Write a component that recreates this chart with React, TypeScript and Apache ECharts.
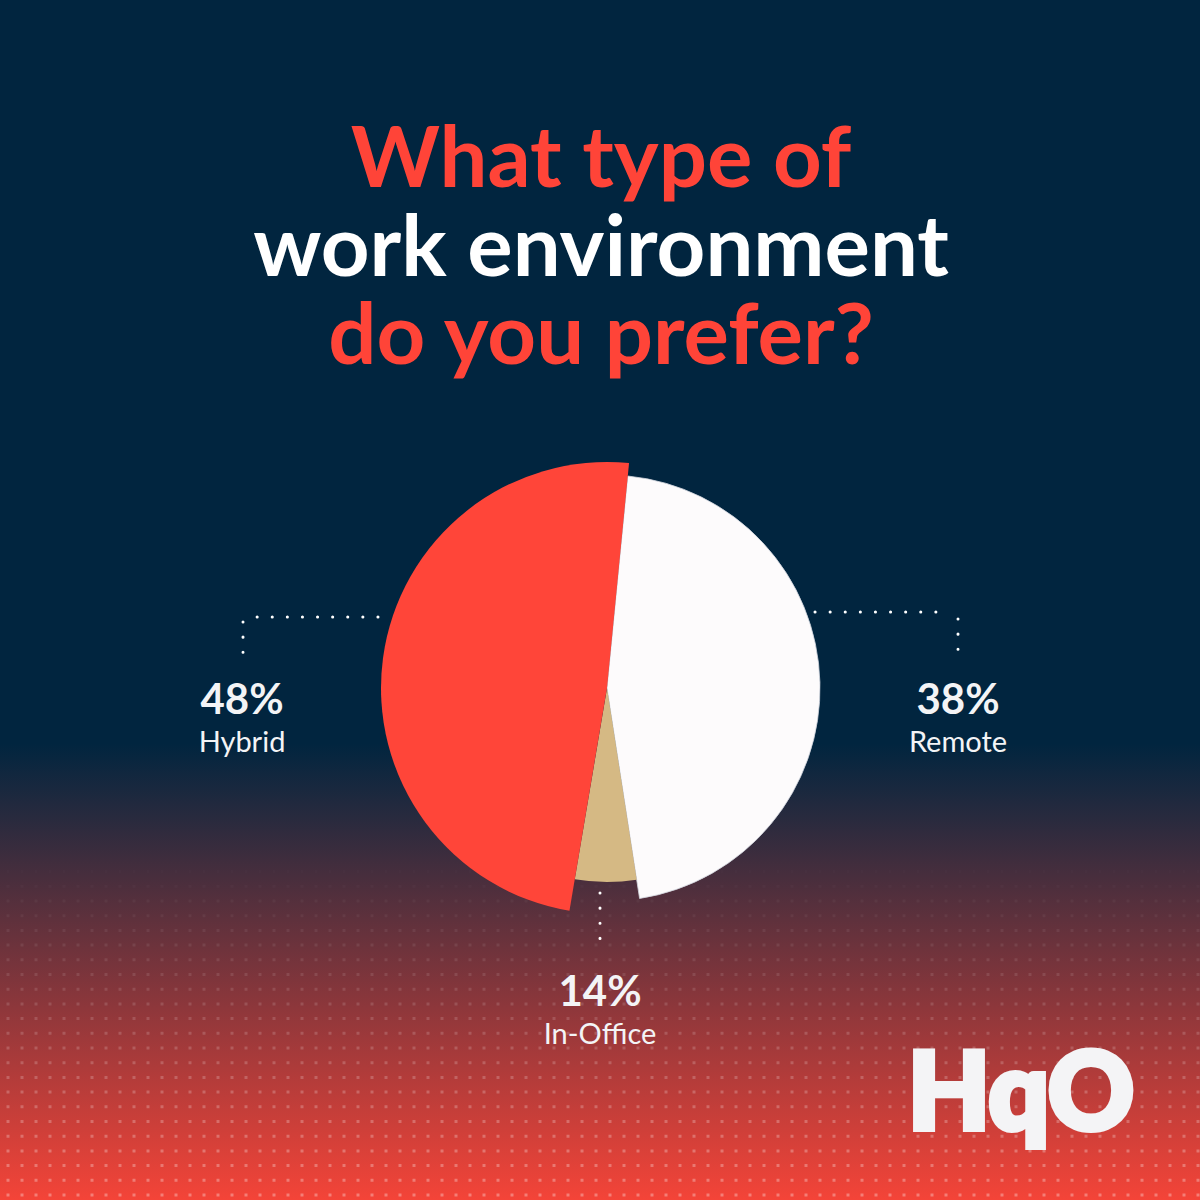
import React, { useEffect, useRef } from "react";
import * as echarts from "echarts";

// ---- data ----
const categories = ["Remote", "In-Office", "Hybrid"];
const percentValues = [38, 14, 48]; // printed percentages
const drawnShare = [46.0, 5.1, 48.9]; // share of the circle each slice occupies in the picture
const titleLines = ["What type of", "work environment", "do you prefer?"];
const logoText = "HqO";

// ---- styles ----
const sliceColors = ["#fdfbfc", "#d5b984", "#ff4539"];
const sliceRadius = [213, 194, 226];
const sliceZ = [2, 3, 4];
const titleColors = ["#ff4438", "#ffffff", "#ff4438"];
const NAVY = "#01253f";
const RED = "#f44438";
const LABEL = "#f3f4f6";

const CENTER: [number, number] = [607, 688];

function buildOption() {
  const series = categories.map((_, idx) => ({
    type: "pie",
    center: CENTER,
    radius: [0, sliceRadius[idx]],
    startAngle: 84.4,
    clockwise: true,
    silent: true,
    z: sliceZ[idx],
    avoidLabelOverlap: false,
    label: { show: false },
    labelLine: { show: false },
    emphasis: { disabled: true },
    data: categories.map((name, i) => ({
      name,
      value: drawnShare[i],
      itemStyle:
        i === idx
          ? {
              color: sliceColors[i],
              borderColor: i === 0 ? "rgba(210,214,222,0.8)" : sliceColors[i],
              borderWidth: i === 0 ? 1 : 0,
            }
          : { color: "rgba(0,0,0,0)", borderWidth: 0 },
    })),
  }));

  const graphics: any[] = [];
  // background gradient
  graphics.push({
    type: "rect",
    z: -100,
    silent: true,
    shape: { x: 0, y: 0, width: 1200, height: 1200 },
    style: {
      fill: new echarts.graphic.LinearGradient(0, 0, 0, 1, [
        { offset: 0, color: NAVY },
        { offset: 0.62, color: NAVY },
        { offset: 1, color: RED },
      ]),
    },
  });
  // dot texture, fading in towards the bottom
  for (let y = 1195; y > 860; y -= 14.7) {
    const t = (y - 860) / (1200 - 860);
    graphics.push({
      type: "line",
      z: -99,
      silent: true,
      shape: { x1: 6.5, y1: y, x2: 1200, y2: y },
      style: { stroke: "#ffffff", lineWidth: 3, lineDash: [3, 11], opacity: 0.32 * t },
    });
  }
  // title
  const titleY = [154, 243, 331];
  titleLines.forEach((line, i) => {
    graphics.push({
      type: "text",
      z: 10,
      x: 601,
      y: titleY[i],
      style: {
        text: line,
        fill: titleColors[i],
        font: "bold 85px Lato",
        lineHeight: 80,
        align: "center",
        verticalAlign: "middle",
      },
    });
  });
  // labels
  const labelPos: Record<string, [number, number]> = {
    Hybrid: [242, 698],
    Remote: [958, 698],
    "In-Office": [600, 990],
  };
  categories.forEach((name, i) => {
    const [x, y] = labelPos[name];
    graphics.push({
      type: "text",
      z: 10,
      x,
      y,
      style: {
        text: `${percentValues[i]}%`,
        fill: LABEL,
        font: "bold 42px Lato",
        align: "center",
        verticalAlign: "middle",
      },
    });
    graphics.push({
      type: "text",
      z: 10,
      x,
      y: y + 42,
      style: {
        text: name,
        fill: LABEL,
        font: "29px Lato",
        align: "center",
        verticalAlign: "middle",
      },
    });
  });
  // dotted leader lines
  const dotted = { stroke: "#ffffff", lineWidth: 3, lineCap: "round", lineDash: [0.1, 15] };
  const leaders = [
    [378, 617, 243, 617],
    [243, 622, 243, 667],
    [815, 612, 950, 612],
    [958, 619, 958, 664],
    [600, 893, 600, 953],
  ];
  leaders.forEach(([x1, y1, x2, y2]) => {
    graphics.push({ type: "line", z: 10, silent: true, shape: { x1, y1, x2, y2 }, style: dotted });
  });
  // logo
  graphics.push({
    type: "text",
    z: 10,
    x: 908,
    y: 1141,
    style: {
      text: logoText,
      fill: "#f4f4f6",
      stroke: "#f4f4f6",
      lineWidth: 6,
      font: "900 106px Lato",
      align: "left",
      verticalAlign: "bottom",
    },
  });

  return {
    animation: false,
    series,
    graphic: { elements: graphics },
  };
}

export default function App() {
  const ref = useRef<HTMLDivElement>(null);
  useEffect(() => {
    if (!ref.current) return;
    const chart = echarts.init(ref.current, undefined, { renderer: "svg" });
    chart.setOption(buildOption() as any);
    return () => chart.dispose();
  }, []);
  return (
    <div
      ref={ref}
      style={{ position: "absolute", left: 0, top: 0, width: 1200, height: 1200 }}
    />
  );
}
